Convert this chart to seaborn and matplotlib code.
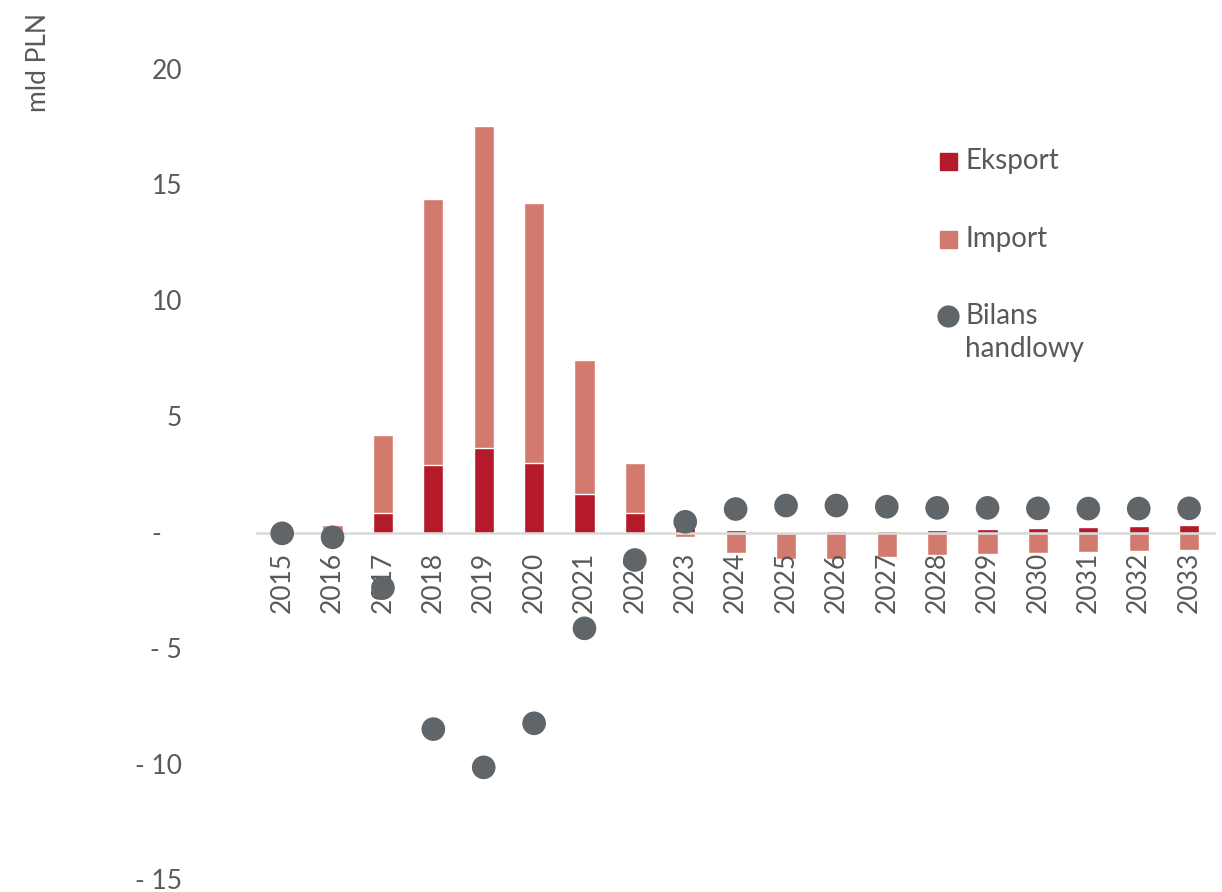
import numpy as np
import pandas as pd
import seaborn as sns
import matplotlib.pyplot as plt
import matplotlib.transforms as mtransforms
from matplotlib.patches import Rectangle
from matplotlib.lines import Line2D

# Chart data (mld PLN)
years = [str(y) for y in range(2015, 2034)]
eksport = [0.0, 0.0, 0.9, 2.97, 3.7, 3.02, 1.68, 0.9, 0.35,
           0.15, 0.05, 0.08, 0.1, 0.15, 0.2, 0.25, 0.28, 0.32, 0.36]
import_ = [0.0, 0.35, 3.35, 11.47, 13.9, 11.25, 5.82, 2.12, -0.15,
           -0.85, -1.1, -1.1, -1.0, -0.92, -0.9, -0.85, -0.8, -0.76, -0.73]
bilans = [0.0, -0.17, -2.35, -8.45, -10.1, -8.2, -4.1, -1.15, 0.5,
          1.05, 1.2, 1.2, 1.15, 1.1, 1.1, 1.08, 1.07, 1.07, 1.08]
yticks = [20, 15, 10, 5, 0, -5, -10, -15]
ytick_labels = ['20', '15', '10', '5', '-   ', '- 5', '- 10', '- 15']

c_eks = '#b51a2b'
c_imp = '#d27a6d'
c_bil = '#5f6568'
c_txt = '#595959'

sns.set_style('white')
plt.rcParams['font.family'] = ['Lato', 'DejaVu Sans']

df = pd.DataFrame({'rok': years, 'eksport': eksport, 'import': import_, 'bilans': bilans})
# positive import stacks on top of export, negative import hangs below zero
df['imp_top'] = np.where(df['import'] > 0, df['eksport'] + df['import'], df['import'])

W, H = 1222, 892
fig = plt.figure(figsize=(W / 100, H / 100), dpi=100)
ax = fig.add_axes([0.2103, 0.0125, 0.7834, 0.909])

sns.barplot(data=df, x='rok', y='imp_top', color=c_imp, width=0.4,
            saturation=1, ax=ax, zorder=1)
sns.barplot(data=df, x='rok', y='eksport', color=c_eks, width=0.4,
            saturation=1, ax=ax, zorder=1.5)
sns.scatterplot(x=np.arange(len(years)), y=df['bilans'], color=c_bil, s=290,
                edgecolor='none', ax=ax, zorder=5, clip_on=False)

ax.set_xlim(-0.5, len(years) - 0.5)
ax.set_ylim(-15, 20)
ax.set_yticks(yticks)
ax.set_yticklabels(ytick_labels)
ax.set_xlabel('')
ax.set_ylabel('')
ax.set_axisbelow(False)

for s in ['top', 'right', 'left']:
    ax.spines[s].set_visible(False)
ax.spines['bottom'].set_position(('data', 0))
ax.spines['bottom'].set_color('#d9d9d9')
ax.spines['bottom'].set_linewidth(1.8)

ax.tick_params(axis='x', length=0, pad=13, labelsize=19, labelcolor=c_txt, labelrotation=90)
ax.tick_params(axis='y', length=0, pad=54, labelsize=19, labelcolor=c_txt)
shift_up = mtransforms.ScaledTranslation(0, 1.5 / 100, fig.dpi_scale_trans)
for lab in ax.get_yticklabels():
    lab.set_horizontalalignment('right')
    lab.set_transform(lab.get_transform() + shift_up)

fig.text(38 / W, 1 - 62 / H, 'mld PLN', rotation=90, fontsize=19, color=c_txt,
         ha='center', va='center')

# legend drawn by hand to match the layout (marker beside first line of text)
def px(x, y):
    return x / W, 1 - y / H

for yc, col, txt in [(161, c_eks, 'Eksport'), (239, c_imp, 'Import')]:
    x0, y0 = px(940, yc + 8.5)
    fig.add_artist(Rectangle((x0, y0), 17 / W, 17 / H, color=col,
                             transform=fig.transFigure))
    fig.text(*px(965, yc), txt, fontsize=20, color=c_txt, va='center', ha='left')

fig.add_artist(Line2D([948 / W], [1 - 316 / H], marker='o', markersize=15,
                      color=c_bil, linestyle='none', transform=fig.transFigure))
fig.text(*px(965, 316), 'Bilans', fontsize=20, color=c_txt, va='center', ha='left')
fig.text(*px(965, 349), 'handlowy', fontsize=20, color=c_txt, va='center', ha='left')

fig.savefig('out.png', dpi=100)
